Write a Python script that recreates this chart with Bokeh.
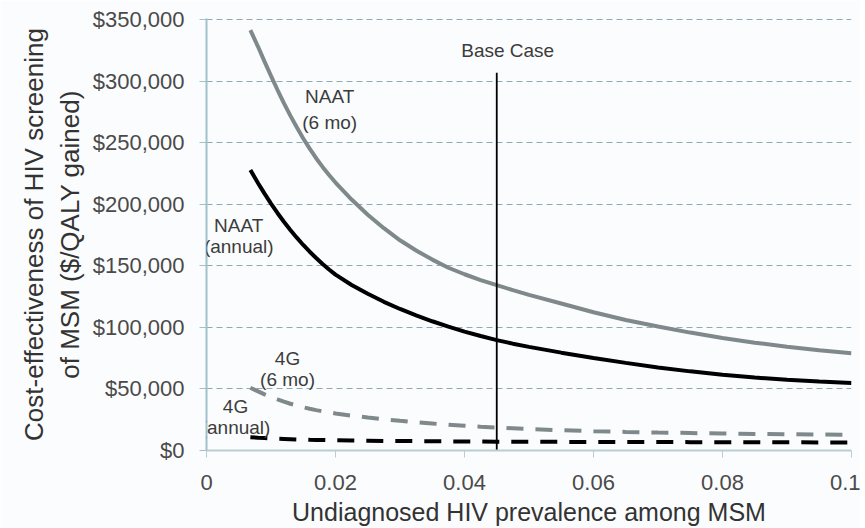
from bokeh.plotting import figure
from bokeh.models import Range1d, FixedTicker, NumeralTickFormatter, CustomJSTickFormatter, Label
from bokeh.embed import file_html
from bokeh.resources import INLINE

# Undiagnosed HIV prevalence among MSM
prevalence = [0.0068, 0.008, 0.009, 0.010, 0.011, 0.012, 0.013, 0.014, 0.015, 0.016,
              0.017, 0.018, 0.019, 0.020, 0.0225, 0.025, 0.0275, 0.030, 0.0325, 0.035,
              0.0375, 0.040, 0.0425, 0.045, 0.0475, 0.050, 0.055, 0.060, 0.065, 0.070,
              0.075, 0.080, 0.085, 0.090, 0.095, 0.100]
# Cost-effectiveness ($/QALY gained), in $ thousands
naat_6mo = [341.5, 328, 316, 304.4, 293.1, 282.3, 272.1, 262.7, 253.5, 245.3,
            237.5, 230.4, 223.8, 217.7, 203.9, 191.6, 180.6, 170.8, 162.5, 155.1,
            148.5, 143.2, 138.5, 134.3, 130.3, 126.5, 119.4, 112.3, 106, 100.7,
            95.8, 91.4, 87.6, 84.3, 81.5, 79]
naat_annual = [228, 217.2, 208.7, 200.6, 193, 185.9, 179.2, 172.9, 167, 161.5,
               156.4, 151.6, 147.1, 142.9, 134.5, 127.3, 120.8, 115, 109.8, 105,
               100.6, 96.6, 93, 89.7, 86.8, 84.2, 79.5, 75.2, 71.2, 67.5,
               64.3, 61.5, 59.3, 57.4, 56, 54.8]
g4_6mo = [51, 48, 45.6, 43.5, 41.5, 39.7, 38, 36.5, 35.1, 33.9,
          32.8, 31.8, 30.9, 30.1, 28.3, 26.8, 25.4, 24.1, 22.9, 21.9,
          20.9, 20.1, 19.3, 18.6, 18, 17.4, 16.5, 15.7, 15.1, 14.6,
          14.2, 13.8, 13.5, 13.2, 13, 12.8]
g4_annual = [10.8, 10.4, 10.1, 9.8, 9.6, 9.4, 9.2, 9.0, 8.9, 8.7,
             8.6, 8.5, 8.4, 8.3, 8.1, 7.95, 7.8, 7.7, 7.6, 7.5,
             7.4, 7.35, 7.3, 7.2, 7.15, 7.1, 7.0, 6.95, 6.9, 6.85,
             6.8, 6.75, 6.7, 6.65, 6.6, 6.6]
base_case = 0.045
x_ticks = [0, 0.02, 0.04, 0.06, 0.08, 0.1]
y_ticks = [0, 50000, 100000, 150000, 200000, 250000, 300000, 350000]

K = 1000
BG = "#fbfcfd"
GREY = "#7f898c"
TXT = "#4a4a4a"
FONT = "Liberation Sans"

p = figure(width=860, height=528, output_backend="svg", toolbar_location=None,
           x_range=Range1d(0, 0.1), y_range=Range1d(0, 351000),
           min_border_left=206, min_border_right=9, min_border_top=18, min_border_bottom=78,
           background_fill_color=BG, border_fill_color=BG)
p.outline_line_color = None

# grid
p.xgrid.grid_line_color = None
p.ygrid.ticker = FixedTicker(ticks=y_ticks)
p.ygrid.grid_line_color = "#8eaab3"
p.ygrid.grid_line_dash = "6 4"
p.ygrid.grid_line_width = 1

# axes
p.xaxis.ticker = FixedTicker(ticks=x_ticks)
p.xaxis.formatter = CustomJSTickFormatter(code="return tick.toFixed(2).replace(/\\.?0+$/, '');")
p.yaxis.ticker = FixedTicker(ticks=y_ticks)
p.yaxis.formatter = NumeralTickFormatter(format="$0,0")
for ax in (p.xaxis[0], p.yaxis[0]):
    ax.major_label_text_font = FONT
    ax.major_label_text_font_size = "22px"
    ax.major_label_text_color = TXT
    ax.axis_label_text_font = FONT
    ax.axis_label_text_font_size = "26px"
    ax.axis_label_text_font_style = "normal"
    ax.axis_label_text_color = "#333333"
    ax.minor_tick_line_color = None
    ax.major_tick_in = 0
    ax.major_tick_out = 7
p.xaxis.axis_label_text_font_size = "25px"
p.yaxis.axis_line_color = "#9fc2cd"
p.yaxis.axis_line_width = 2
p.yaxis.major_tick_line_color = "#9fc2cd"
p.xaxis.axis_line_color = "#bccdd2"
p.xaxis.axis_line_width = 2
p.xaxis.major_tick_line_color = "#bccdd2"
p.yaxis.major_label_standoff = 15
p.xaxis.major_label_standoff = 17
p.yaxis.axis_label = "Cost-effectiveness of HIV screening\nof MSM ($/QALY gained)"
p.yaxis.axis_label_standoff = 5
p.xaxis.axis_label = "Undiagnosed HIV prevalence among MSM"
p.xaxis.axis_label_standoff = 5

# curves
xs = prevalence
p.line(xs, [v * K for v in naat_6mo], line_color=GREY, line_width=4)
p.line(xs, [v * K for v in naat_annual], line_color="black", line_width=4)
p.line(xs, [v * K for v in g4_6mo], line_color=GREY, line_width=4, line_dash="17 12")
p.line(xs, [v * K for v in g4_annual], line_color="black", line_width=4, line_dash="17 12")

# base case
p.segment(x0=[base_case], y0=[0], x1=[base_case], y1=[307000], line_color="black", line_width=1.8)

def lab(x, y, t):
    p.add_layout(Label(x=x, y=y, text=t, text_align="center", text_baseline="middle",
                       text_font=FONT, text_font_size="19px", text_color="#3c3c3c"))

lab(0.0467, 325000, "Base Case")
lab(0.0191, 287700, "NAAT")
lab(0.0191, 266600, "(6 mo)")
lab(0.0050, 183000, "NAAT")
lab(0.0050, 165500, "(annual)")
lab(0.01256, 74600, "4G")
lab(0.01256, 57500, "(6 mo)")
lab(0.0045, 35900, "4G")
lab(0.0045, 18400, "(annual)")

open("out.html", "w").write(file_html(p, INLINE))
